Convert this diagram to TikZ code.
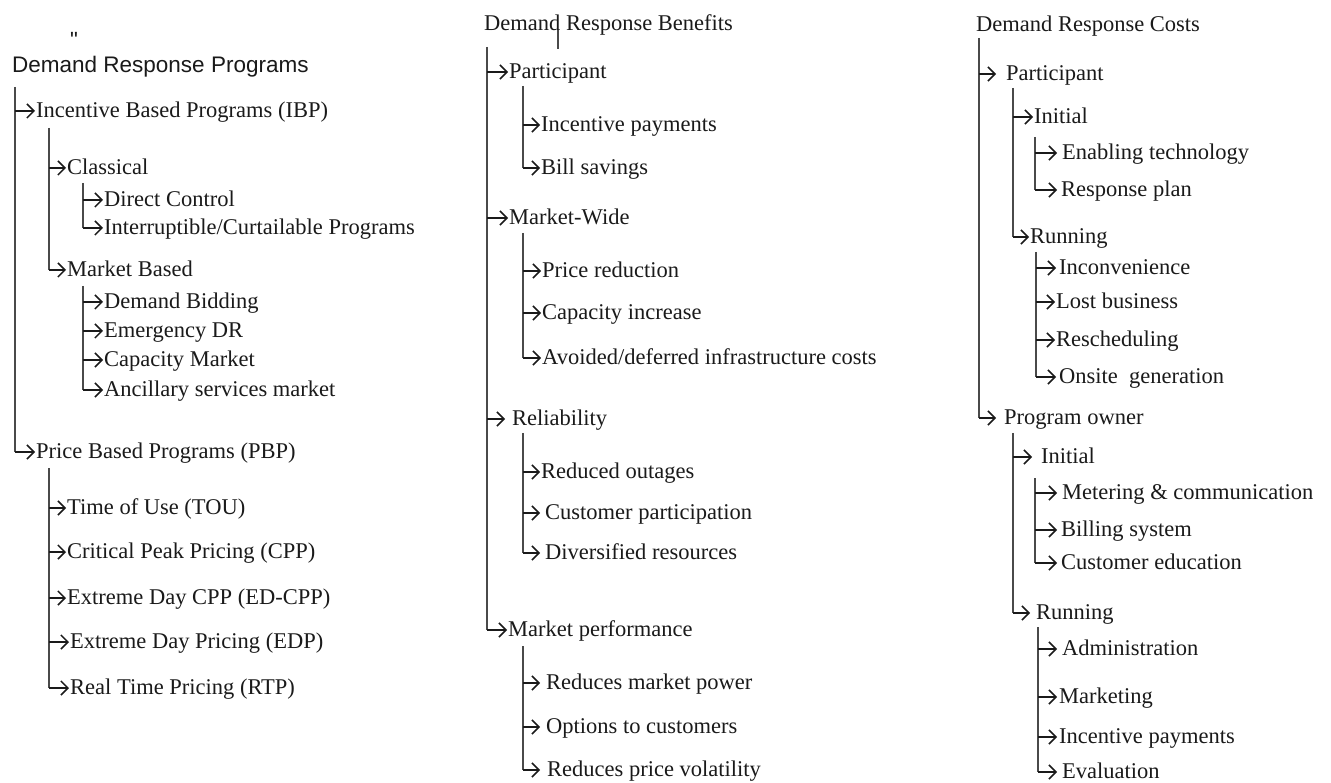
\documentclass[tikz,border=0pt]{standalone}
\usepackage{fontspec}
\setmainfont{Liberation Serif}
\newfontfamily\headsans{Liberation Sans}
\usetikzlibrary{arrows.meta}

\definecolor{inkc}{HTML}{1A1A1A}
\definecolor{linec}{HTML}{4A4A4A}

\tikzset{
  item/.style={anchor=west, inner xsep=1pt, inner ysep=0pt, text=inkc,
    font=\fontsize{22.5pt}{27pt}\selectfont, text height=15pt, text depth=2pt},
  head/.style={anchor=base west, inner sep=0pt, text=inkc,
    font=\fontsize{22.5pt}{27pt}\selectfont},
  trunk/.style={draw=linec, line width=2pt},
  arr/.style={draw=inkc, line width=1.5pt, -{Straight Barb[length=7pt,width=14pt,line width=1.5pt]}},
}
% arrow from a vertical trunk to a child entry
\newcommand\twig[2]{\draw[arr] (#2.west -| #1) -- (#2.west);}

\begin{document}
\begin{tikzpicture}[x=1pt,y=-1pt]
\useasboundingbox[fill=white] (0,0) rectangle (1331,783);

% ---------------- Demand Response Programs ----------------
\node[inner sep=0pt, text=inkc, font=\headsans\fontsize{22pt}{24pt}\selectfont] (q) at (74,40) {"};
\node[head, font=\headsans\fontsize{22.5pt}{27pt}\selectfont] (drp) at (12,73) {Demand Response Programs};
\coordinate (A0) at (15,87);
\node[item] (ibp) at (35,111) {Incentive Based Programs (IBP)};
\node[item] (pbp) at (35,452) {Price Based Programs (PBP)};
\draw[trunk] (A0) -- (pbp.west -| A0);
\twig{A0}{ibp} \twig{A0}{pbp}

\coordinate (A1) at (49,128);
\node[item] (cls) at (66,168) {Classical};
\node[item] (mkb) at (66,270) {Market Based};
\draw[trunk] (A1) -- (mkb.west -| A1);
\twig{A1}{cls} \twig{A1}{mkb}

\coordinate (A2) at (83,183);
\node[item] (dc) at (103,200) {Direct Control};
\node[item] (icp) at (103,228) {Interruptible/Curtailable Programs};
\draw[trunk] (A2) -- (icp.west -| A2);
\twig{A2}{dc} \twig{A2}{icp}

\coordinate (A3) at (83,286);
\node[item] (db) at (103,302) {Demand Bidding};
\node[item] (edr) at (103,331) {Emergency DR};
\node[item] (cm) at (103,360) {Capacity Market};
\node[item] (asm) at (103,390) {Ancillary services market};
\draw[trunk] (A3) -- (asm.west -| A3);
\twig{A3}{db} \twig{A3}{edr} \twig{A3}{cm} \twig{A3}{asm}

\coordinate (A4) at (49,468);
\node[item] (tou) at (66,508) {Time of Use (TOU)};
\node[item] (cpp) at (66,552) {Critical Peak Pricing (CPP)};
\node[item] (edc) at (66,598) {Extreme Day CPP (ED-CPP)};
\node[item] (edp) at (69,642) {Extreme Day Pricing (EDP)};
\node[item] (rtp) at (69,688) {Real Time Pricing (RTP)};
\draw[trunk] (A4) -- (rtp.west -| A4);
\twig{A4}{tou} \twig{A4}{cpp} \twig{A4}{edc} \twig{A4}{edp} \twig{A4}{rtp}

% ---------------- Demand Response Benefits ----------------
\node[head] (drb) at (484,31) {Demand Response Benefits};
\draw[trunk] (558,30) -- (558,49);
\coordinate (B0) at (487,47);
\node[item] (bpa) at (508,72) {Participant};
\node[item] (bmw) at (508,218) {Market-Wide};
\node[item] (brl) at (505,419) {\hspace{6pt}Reliability};
\node[item] (bmp) at (507,630) {Market performance};
\draw[trunk] (B0) -- (bmp.west -| B0);
\twig{B0}{bpa} \twig{B0}{bmw} \twig{B0}{brl} \twig{B0}{bmp}

\coordinate (B1) at (523,86);
\node[item] (bip) at (540,125) {Incentive payments};
\node[item] (bbs) at (540,168) {Bill savings};
\draw[trunk] (B1) -- (bbs.west -| B1);
\twig{B1}{bip} \twig{B1}{bbs}

\coordinate (B2) at (523,233);
\node[item] (bpr) at (541,271) {Price reduction};
\node[item] (bci) at (541,313) {Capacity increase};
\node[item] (bav) at (541,358) {Avoided/deferred infrastructure costs};
\draw[trunk] (B2) -- (bav.west -| B2);
\twig{B2}{bpr} \twig{B2}{bci} \twig{B2}{bav}

\coordinate (B3) at (523,433);
\node[item] (bro) at (540,472) {Reduced outages};
\node[item] (bcp) at (540,513) {\hspace{4pt}Customer participation};
\node[item] (bdr) at (540,553) {\hspace{4pt}Diversified resources};
\draw[trunk] (B3) -- (bdr.west -| B3);
\twig{B3}{bro} \twig{B3}{bcp} \twig{B3}{bdr}

\coordinate (B4) at (523,646);
\node[item] (bmpw) at (540,683) {\hspace{5pt}Reduces market power};
\node[item] (boc) at (540,727) {\hspace{5pt}Options to customers};
\node[item] (bpv) at (540,770) {\hspace{6pt}Reduces price volatility};
\draw[trunk] (B4) -- (bpv.west -| B4);
\twig{B4}{bmpw} \twig{B4}{boc} \twig{B4}{bpv}

% ---------------- Demand Response Costs ----------------
\node[head] (drc) at (976,32) {Demand Response Costs};
\coordinate (C0) at (979,38);
\node[item] (cpa) at (996,74) {\hspace{9pt}Participant};
\node[item] (cpo) at (996,418) {\hspace{7pt}Program owner};
\draw[trunk] (C0) -- (cpo.west -| C0);
\twig{C0}{cpa} \twig{C0}{cpo}

\coordinate (C1) at (1013,88);
\node[item] (cin) at (1033,117) {Initial};
\node[item] (cru) at (1029,237) {Running};
\draw[trunk] (C1) -- (cru.west -| C1);
\twig{C1}{cin} \twig{C1}{cru}

\coordinate (C2) at (1035,137);
\node[item] (cet) at (1057,153) {\hspace{4pt}Enabling technology};
\node[item] (crp) at (1057,190) {\hspace{3pt}Response plan};
\draw[trunk] (C2) -- (crp.west -| C2);
\twig{C2}{cet} \twig{C2}{crp}

\coordinate (C3) at (1036,252);
\node[item] (cic) at (1056,268) {\hspace{2pt}Inconvenience};
\node[item] (clb) at (1055,302) {Lost business};
\node[item] (crs) at (1055,340) {Rescheduling};
\node[item] (cog) at (1056,377) {\hspace{2pt}Onsite\ \ generation};
\draw[trunk] (C3) -- (cog.west -| C3);
\twig{C3}{cic} \twig{C3}{clb} \twig{C3}{crs} \twig{C3}{cog}

\coordinate (C4) at (1013,433);
\node[item] (cin2) at (1032,457) {\hspace{8pt}Initial};
\node[item] (cru2) at (1030,613) {\hspace{5pt}Running};
\draw[trunk] (C4) -- (cru2.west -| C4);
\twig{C4}{cin2} \twig{C4}{cru2}

\coordinate (C5) at (1035,478);
\node[item] (cmc) at (1057,493) {\hspace{4pt}Metering \& communication};
\node[item] (cbs) at (1057,530) {\hspace{3pt}Billing system};
\node[item] (cce) at (1057,563) {\hspace{3pt}Customer education};
\draw[trunk] (C5) -- (cce.west -| C5);
\twig{C5}{cmc} \twig{C5}{cbs} \twig{C5}{cce}

\coordinate (C6) at (1038,627);
\node[item] (cad) at (1057,649) {\hspace{4pt}Administration};
\node[item] (cmk) at (1057,697) {\hspace{1pt}Marketing};
\node[item] (cip) at (1057,737) {\hspace{1pt}Incentive payments};
\node[item] (cev) at (1057,772) {\hspace{4pt}Evaluation};
\draw[trunk] (C6) -- (cev.west -| C6);
\twig{C6}{cad} \twig{C6}{cmk} \twig{C6}{cip} \twig{C6}{cev}

\end{tikzpicture}
\end{document}
